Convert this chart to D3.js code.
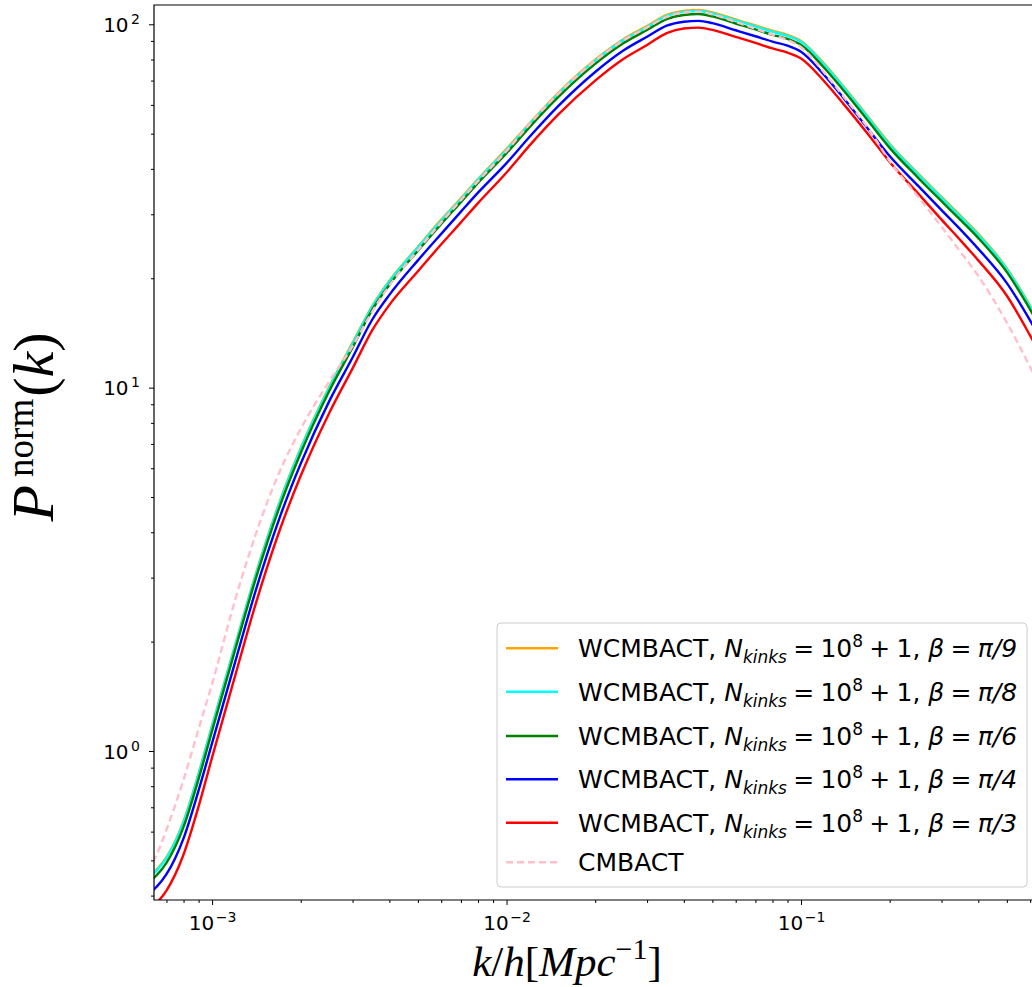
<!DOCTYPE html>
<html><head><meta charset="utf-8">
<script src="https://cdn.jsdelivr.net/npm/d3@7"></script>
<style>body{margin:0;background:#fff}svg{display:block}</style>
</head><body>
<svg id="chart" width="1032" height="987"></svg>
<script>
// ---------------- data ----------------
const kValues = [0.00063,0.00065,0.0007,0.0008,0.0009,0.001,0.0012,0.0014,0.0017,0.002,
  0.0025,0.003,0.0035,0.004,0.005,0.006,0.007,0.008,0.01,0.012,
  0.015,0.02,0.025,0.03,0.035,0.04,0.045,0.05,0.06,0.07,
  0.08,0.09,0.1,0.12,0.14,0.17,0.2,0.25,0.3,0.35,
  0.4,0.5,0.6,0.7];
const pBetaPi9 = [0.461,0.473,0.510,0.641,0.868,1.177,1.97,3.03,4.88,6.82,
  10.05,13.3,16.8,19.7,24.4,29.0,33.2,37.5,45.4,53.5,
  64.8,79.9,91.1,98.9,106.1,108.8,109.5,107.8,103.1,99.3,
  96.0,93.5,90.0,77.8,67.2,55.3,46.9,38.8,33.5,29.6,
  26.5,21.3,16.8,13.5];
const pBetaPi8 = [0.458,0.470,0.507,0.637,0.863,1.170,1.96,3.01,4.85,6.78,
  9.99,13.2,16.7,19.6,24.3,28.8,33.0,37.3,45.1,53.2,
  64.4,79.4,90.6,98.3,105.5,108.2,108.8,107.2,102.5,98.7,
  95.4,92.9,89.5,77.3,66.8,55.0,46.6,38.6,33.3,29.4,
  26.3,21.2,16.7,13.4];
const pBetaPi6 = [0.445,0.456,0.492,0.618,0.838,1.136,1.91,2.94,4.73,6.61,
  9.79,12.9,16.4,19.2,23.8,28.2,32.4,36.6,44.2,52.2,
  63.1,77.8,88.8,96.4,103.4,106.1,106.7,105.1,100.5,96.8,
  93.5,91.1,87.7,75.8,65.5,53.9,45.7,37.8,32.6,28.8,
  25.8,20.8,16.4,13.1];
const pBetaPi4 = [0.414,0.424,0.458,0.575,0.779,1.051,1.767,2.73,4.41,6.18,
  9.18,12.1,15.4,18.0,22.4,26.5,30.5,34.4,41.5,49.1,
  59.6,73.9,84.8,92.4,99.1,101.6,102.2,100.7,96.3,92.7,
  89.6,87.3,84.0,72.4,62.4,51.2,43.4,35.9,30.8,27.1,
  24.1,19.4,15.3,12.2];
const pBetaPi3 = [0.374,0.383,0.413,0.519,0.704,0.960,1.62,2.51,4.07,5.72,
  8.52,11.3,14.4,16.9,20.9,24.8,28.5,32.2,39.1,46.5,
  56.5,70.0,80.4,87.7,94.6,97.4,97.9,96.5,92.3,88.9,
  85.8,83.6,80.5,69.6,60.1,49.5,41.8,34.2,29.0,25.3,
  22.4,17.9,13.9,11.0];
const pCMBACT = [0.495,0.521,0.607,0.833,1.150,1.53,2.62,3.90,5.90,7.70,
  10.4,13.0,16.2,19.1,23.9,28.5,32.8,37.0,44.8,53.2,
  64.4,79.4,90.4,98.0,104.8,107.8,108.3,106.5,101.5,97.2,
  93.6,90.5,86.5,73.5,63.0,51.4,42.0,33.5,27.7,23.5,
  20.3,15.1,11.4,8.9];
const betaLabels = ["π/9","π/8","π/6","π/4","π/3"];
const seriesColors = ["orange","cyan","green","blue","red","pink"];
const xMajorTicks = [1e-3,1e-2,1e-1];
const xTickExponents = ["−3","−2","−1"];
const yMajorTicks = [1,10,100];
const yTickExponents = ["0","1","2"];

// ---------------- layout ----------------
const svg = d3.select("#chart");
const pLeft = 154, pTop = 5, pBottom = 900;
const x = d3.scaleLog().domain([6.35e-4, 0.75]).range([pLeft, 1058.7]);
const y = d3.scaleLog().domain([0.389, 113.0]).range([pBottom, pTop]);
const pRight = x.range()[1];

const series = [
  {vals:pBetaPi9, color:seriesColors[0]},
  {vals:pBetaPi8, color:seriesColors[1]},
  {vals:pBetaPi6, color:seriesColors[2]},
  {vals:pBetaPi4, color:seriesColors[3]},
  {vals:pBetaPi3, color:seriesColors[4]},
  {vals:pCMBACT, color:seriesColors[5], dash:"7,4"}
];

svg.append("defs").append("clipPath").attr("id","clip")
  .append("rect").attr("x",pLeft).attr("y",pTop).attr("width",pRight-pLeft).attr("height",pBottom-pTop);

const line = d3.line().x(d=>x(d[0])).y(d=>y(d[1])).curve(d3.curveMonotoneX);
const g = svg.append("g").attr("clip-path","url(#clip)");
series.forEach(s=>{
  g.append("path").datum(kValues.map((k,i)=>[k,s.vals[i]]))
    .attr("d",line).attr("fill","none").attr("stroke",s.color)
    .attr("stroke-width",2.4).attr("stroke-dasharray",s.dash||null);
});

function minorTicks(dom){
  const out=[];
  for(let e=Math.floor(Math.log10(dom[0]));e<=Math.ceil(Math.log10(dom[1]));e++){
    for(let m=2;m<=9;m++){const v=m*Math.pow(10,e); if(v>=dom[0]&&v<=dom[1]) out.push(v);}
  }
  return out;
}
const axFont = "DejaVu Sans";
svg.append("g").attr("transform",`translate(0,${pBottom})`)
  .call(d3.axisBottom(x).tickValues(minorTicks(x.domain())).tickSize(3).tickFormat(""));
const xMaj = svg.append("g").attr("transform",`translate(0,${pBottom})`)
  .call(d3.axisBottom(x).tickValues(xMajorTicks).tickSize(5).tickFormat(""));
xMaj.selectAll(".tick").each(function(d,i){
  const t=d3.select(this).select("text").text(null)
    .attr("font-family",axFont).attr("font-size",20).attr("fill","#000").attr("y",30).attr("dy",null)
    .attr("text-anchor","middle");
  t.append("tspan").text("10");
  t.append("tspan").attr("dy",-8).attr("dx",1.5).attr("font-size",14).text(xTickExponents[i]);
});
svg.append("g").attr("transform",`translate(${pLeft},0)`)
  .call(d3.axisLeft(y).tickValues(minorTicks(y.domain())).tickSize(3).tickFormat(""));
const yMaj = svg.append("g").attr("transform",`translate(${pLeft},0)`)
  .call(d3.axisLeft(y).tickValues(yMajorTicks).tickSize(5).tickFormat(""));
yMaj.selectAll(".tick").each(function(d,i){
  const t=d3.select(this).select("text").text(null)
    .attr("font-family",axFont).attr("font-size",20).attr("fill","#000")
    .attr("x",-14).attr("dy","0.36em").attr("text-anchor","end");
  t.append("tspan").text("10");
  t.append("tspan").attr("dy",-8).attr("dx",2.5).attr("font-size",14).text(yTickExponents[i]);
});
svg.selectAll(".domain").remove();
svg.selectAll(".tick line").attr("stroke","#000").attr("stroke-width",1);

svg.append("path").attr("d",`M${pRight},${pTop}H${pLeft}V${pBottom}H${pRight}`)
  .attr("fill","none").attr("stroke","#000").attr("stroke-width",1.2);

// axis labels
const xl = svg.append("text").attr("x",567).attr("y",976).attr("text-anchor","middle")
  .attr("font-family","Liberation Serif").attr("font-size",43).attr("fill","#000");
xl.append("tspan").attr("font-style","italic").text("k");
xl.append("tspan").text("/");
xl.append("tspan").attr("font-style","italic").text("h");
xl.append("tspan").text("[");
xl.append("tspan").attr("font-style","italic").text("Mpc");
xl.append("tspan").attr("dy",-17).attr("font-size",30).text("−1");
xl.append("tspan").attr("dy",17).text("]");

const yl = svg.append("text").attr("transform","translate(53,427) rotate(-90)")
  .attr("text-anchor","middle").attr("font-family","Liberation Serif").attr("font-size",58).attr("fill","#000");
yl.append("tspan").attr("font-style","italic").attr("font-size",60).text("P");
yl.append("tspan").attr("dy",-20).attr("font-size",37).attr("dx",8).text("norm");
yl.append("tspan").attr("dy",20).attr("dx",2).text("(");
yl.append("tspan").attr("font-style","italic").text("k");
yl.append("tspan").text(")");

// legend
const lg = svg.append("g");
lg.append("rect").attr("x",497).attr("y",623).attr("width",530).attr("height",264)
  .attr("rx",4).attr("fill","#fff").attr("fill-opacity",0.8).attr("stroke","#ccc").attr("stroke-width",1);
const rowY = [648.3,691.7,736,779.3,822.7,862.3];
const fs = 25, sp = "\u2005";
series.forEach((s,i)=>{
  lg.append("line").attr("x1",506).attr("x2",558).attr("y1",rowY[i]).attr("y2",rowY[i])
    .attr("stroke",s.color).attr("stroke-width",2.4).attr("stroke-dasharray",s.dash||null);
  const t = lg.append("text").attr("x",578).attr("y",rowY[i]+0.365*fs)
    .attr("font-family",axFont).attr("font-size",fs).attr("fill","#000");
  if(i<5){
    t.append("tspan").text("WCMBACT, ");
    t.append("tspan").attr("font-style","italic").text("N");
    t.append("tspan").attr("font-style","italic").attr("font-size",17).attr("dy",6).text("kinks");
    t.append("tspan").attr("dy",-6).text(sp+"="+sp+"10");
    t.append("tspan").attr("font-size",17).attr("dy",-10).text("8");
    t.append("tspan").attr("dy",10).text(sp+"+"+sp+"1, ");
    t.append("tspan").attr("font-style","italic").text("β");
    t.append("tspan").text(sp+"="+sp);
    t.append("tspan").attr("font-style","italic").text(betaLabels[i]);
  } else {
    t.text("CMBACT");
  }
});
</script>
</body></html>
